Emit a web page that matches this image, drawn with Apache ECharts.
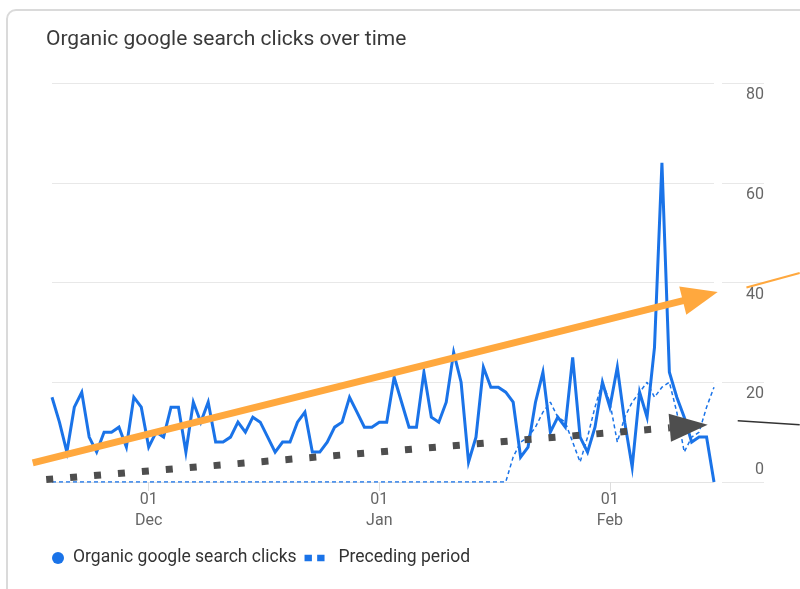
<!DOCTYPE html>
<html>
<head>
<meta charset="utf-8">
<script src="https://cdn.jsdelivr.net/npm/echarts@6/dist/echarts.min.js"></script>
<style>
html, body { margin: 0; padding: 0; background: #fff; }
#wrap { position: relative; width: 800px; height: 589px; overflow: hidden; }
#card { position: absolute; left: 6px; top: 9px; width: 830px; height: 640px; border: 2px solid #dadada; border-radius: 10px; box-sizing: border-box; }
#chart { position: absolute; left: 0; top: 0; width: 800px; height: 589px; }
</style>
</head>
<body>
<div id="wrap">
  <div id="card"></div>
  <div id="chart"></div>
</div>
<script>
// one value per day, 18 Nov -> 15 Feb
const startDay = '2023-11-18'
const dayCount = 90

const clicks = [
  17, 12, 6, 15, 18, 9, 6, 10, 10, 11, 7, 17, 15,
  7, 10, 9, 15, 15, 6, 16, 12, 16, 8, 8, 9, 12, 10, 13, 12, 9, 6, 8, 8, 12, 14, 6, 6, 8, 11, 12, 17, 14, 11, 11,
  12, 12, 21, 16, 11, 11, 22, 13, 12, 16, 26, 20, 4, 9, 23, 19, 19, 18, 16, 5, 7, 16, 22, 10, 13, 11, 25, 9, 6, 11,
  20, 15, 23, 12, 3, 18, 13, 27, 64, 22, 17, 13, 8, 9, 9, 0
]

const preceding = [
  0, 0, 0, 0, 0, 0, 0, 0, 0, 0, 0, 0, 0,
  0, 0, 0, 0, 0, 0, 0, 0, 0, 0, 0, 0, 0, 0, 0, 0, 0, 0, 0, 0, 0, 0, 0, 0, 0, 0, 0, 0, 0, 0, 0,
  0, 0, 0, 0, 0, 0, 0, 0, 0, 0, 0, 0, 0, 0, 0, 0, 0, 0, 5, 8, 9, 11, 14, 16, 13, 12, 8, 4, 9, 15,
  20, 16, 8, 13, 16, 18, 20, 17, 19, 20, 14, 6, 9, 10, 15, 19
]

const monthNames = ['Jan', 'Feb', 'Mar', 'Apr', 'May', 'Jun', 'Jul', 'Aug', 'Sep', 'Oct', 'Nov', 'Dec']
const yTicks = { min: 0, max: 80, step: 20 }

// hand drawn annotations, in (day index, clicks) units
const orangeArrow = [[-2.59, 3.83], [89.5, 38.1]]
const orangeTail = [[93.36, 39.0], [100.52, 41.9]]
const grayArrow = [[-0.78, 0.5], [88.15, 11.5]]
const blackTail = [[92.19, 12.3], [100.52, 11.5]]

const days = []
const d0 = new Date(startDay + 'T00:00:00Z')
for (let i = 0; i < dayCount; i++) {
  const d = new Date(d0.getTime() + i * 86400000)
  days.push(d.toISOString().slice(0, 10))
}

const isMonthStart = (idx, val) => val.slice(8) === '01'

const font = 'Roboto, "Noto Sans", sans-serif'
const blue = '#1a73e8'
const gridTop = 83
const gridBottom = 107

const chart = echarts.init(document.getElementById('chart'))

const option = {
  animation: false,
  textStyle: { fontFamily: font },
  title: {
    text: 'Organic google search clicks over time',
    left: 46,
    top: 29,
    padding: 0,
    textStyle: { fontSize: 21, fontWeight: 'normal', color: '#3a3a3a', fontFamily: font }
  },
  legend: {
    left: 52,
    top: 548,
    padding: 0,
    itemWidth: 20,
    itemHeight: 12,
    itemGap: 8,
    itemStyle: { borderWidth: 0 },
    textStyle: {
      fontSize: 17.5, color: '#333', lineHeight: 20, fontFamily: font,
      rich: { p: { fontSize: 17.5, color: '#333', padding: [0, 0, 0, 9], fontFamily: font } }
    },
    formatter: name => name === 'Preceding period' ? '{p|' + name + '}' : name,
    data: [
      { name: 'Organic google search clicks', icon: 'circle' },
      { name: 'Preceding period', icon: 'path://M0,0h7v6h-7z M12,0h7v6h-7z' }
    ]
  },
  grid: [
    { left: 52, right: 86, top: gridTop, bottom: gridBottom },
    { left: 722, right: 36, top: gridTop, bottom: gridBottom }
  ],
  xAxis: [
    {
      type: 'category',
      gridIndex: 0,
      data: days,
      boundaryGap: false,
      axisLine: { lineStyle: { color: '#e3e3e3', width: 1 } },
      axisTick: { interval: isMonthStart, length: 9, lineStyle: { color: '#dddddd' } },
      axisLabel: {
        interval: isMonthStart,
        margin: 7,
        fontSize: 16,
        lineHeight: 21,
        color: '#666',
        formatter: v => v.slice(8) + '\n' + monthNames[+v.slice(5, 7) - 1]
      }
    },
    { type: 'value', gridIndex: 0, min: 0, max: dayCount - 1, show: false },
    { type: 'value', gridIndex: 1, min: 0, max: 1, show: false }
  ],
  yAxis: [
    {
      type: 'value',
      gridIndex: 0,
      min: yTicks.min,
      max: yTicks.max,
      interval: yTicks.step,
      axisLine: { show: false },
      axisTick: { show: false },
      axisLabel: { show: false },
      splitLine: { lineStyle: { color: '#e8e8e8', width: 1 } }
    },
    {
      type: 'value',
      gridIndex: 1,
      position: 'right',
      min: yTicks.min,
      max: yTicks.max,
      interval: yTicks.step,
      axisLine: { show: false },
      axisTick: { show: false },
      axisLabel: {
        inside: true,
        margin: 0,
        fontSize: 16,
        color: '#666',
        lineHeight: 24,
        padding: [4, 0, 0, 0],
        verticalAlign: 'middle',
        formatter: v => v === 0 ? '0\n' : '\n' + v
      },
      splitLine: { lineStyle: { color: '#e8e8e8', width: 1 } }
    }
  ],
  series: [
    {
      name: 'Preceding period',
      type: 'line',
      xAxisIndex: 0,
      yAxisIndex: 0,
      data: preceding,
      showSymbol: false,
      color: blue,
      lineStyle: { color: blue, width: 1.5, type: [4, 3] },
      z: 3
    },
    {
      name: 'Organic google search clicks',
      type: 'line',
      xAxisIndex: 0,
      yAxisIndex: 0,
      data: clicks,
      showSymbol: false,
      color: blue,
      lineStyle: { color: blue, width: 3, join: 'miter' },
      z: 4
    }
  ]
}

chart.setOption(option)

// annotations: positions come from the axes, head sizes in px
const toPx = p => chart.convertToPixel({ xAxisIndex: 1, yAxisIndex: 0 }, p)

function arrowShapes(seg, headLen, headW, color, lineWidth, dash) {
  const a = toPx(seg[0])
  const b = toPx(seg[1])
  const dx = b[0] - a[0], dy = b[1] - a[1]
  const len = Math.sqrt(dx * dx + dy * dy)
  const ux = dx / len, uy = dy / len
  const base = [b[0] - ux * headLen, b[1] - uy * headLen]
  const nx = -uy * headW / 2, ny = ux * headW / 2
  const lineEnd = [b[0] - ux * headLen * 0.7, b[1] - uy * headLen * 0.7]
  return [
    {
      type: 'line',
      z: 100,
      shape: { x1: a[0], y1: a[1], x2: dash ? base[0] : lineEnd[0], y2: dash ? base[1] : lineEnd[1] },
      style: { stroke: color, lineWidth: lineWidth, lineDash: dash || null, lineCap: 'butt' }
    },
    {
      type: 'polygon',
      z: 101,
      shape: { points: [[b[0], b[1]], [base[0] + nx, base[1] + ny], [base[0] - nx, base[1] - ny]] },
      style: { fill: color }
    }
  ]
}

function plainLine(seg, color, lineWidth) {
  const a = toPx(seg[0])
  const b = toPx(seg[1])
  return {
    type: 'line',
    z: 100,
    shape: { x1: a[0], y1: a[1], x2: b[0], y2: b[1] },
    style: { stroke: color, lineWidth: lineWidth }
  }
}

chart.setOption({
  graphic: [
    ...arrowShapes(grayArrow, 38, 28, '#4e4e4e', 7, [7, 17]),
    ...arrowShapes(orangeArrow, 36, 29, '#ffa83e', 7, null),
    plainLine(orangeTail, '#ffa83e', 2),
    plainLine(blackTail, '#333', 1.5)
  ]
})
</script>
</body>
</html>
